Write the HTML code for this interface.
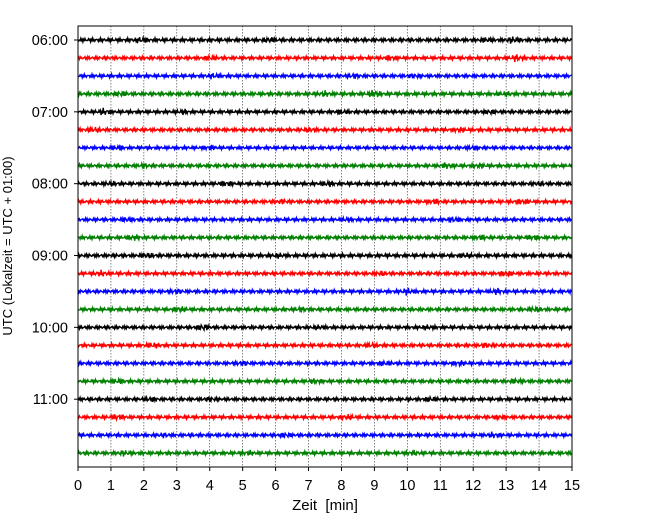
<!DOCTYPE html>
<html><head><meta charset="utf-8"><style>
html,body{margin:0;padding:0;background:#fff;}
svg{display:block;font-family:"Liberation Sans",sans-serif;}
</style></head><body>
<svg id="chart" width="650" height="520"></svg>
<script>
const xTicks = [0,1,2,3,4,5,6,7,8,9,10,11,12,13,14,15];
const hourLabels = ["06:00","07:00","08:00","09:00","10:00","11:00"];
const traceColors = ["#000000","#ff0000","#0000ff","#008000"];
const traceCount = 24;
const baseAmp = [1.9,1.8,1.8,1.9,1.8,1.8,1.7,1.8,1.8,1.8,1.8,1.8,1.9,1.8,1.8,1.8,1.8,1.8,1.8,1.8,1.8,1.8,1.8,1.8];
// bursts per trace: [minute, amplitude]
const bursts = [
 [[1.9,3],[5.8,3],[13.2,3.5],[12.4,2.5]],
 [[4,2.5],[9.5,2.5],[13.3,3.5]],
 [[4.1,3],[8.4,2.5],[10.2,2.5]],
 [[1.3,2.5],[7.5,3],[9,4],[13,2.5]],
 [[0.8,3.5],[3.2,2.5],[8,2.5],[12.5,2.5]],
 [[0.5,3],[7,2.5],[11.6,2.5]],
 [[1.2,2.5],[4,2.5],[12,2.5]],
 [[2,2.5],[11.2,3],[12.2,2.5]],
 [[1,2.5],[4.5,2.5],[7.6,3],[14,2.5]],
 [[6.2,2.5],[10.8,2.5],[13.5,2.5]],
 [[1.5,2.5],[8.2,2.5],[11.4,3]],
 [[1.7,3],[12.2,2.5],[13.8,2.5]],
 [[2.1,3],[6.1,2.5],[11.8,2.5]],
 [[0.7,3],[9.2,2.5],[13,3]],
 [[3,2.5],[10,3.5],[12.7,3]],
 [[3.1,3],[6.8,2.5],[13.9,3]],
 [[3.8,3.5],[7.3,2.5],[10.6,2.5]],
 [[2.3,3],[8.9,2.5],[12.4,2.5]],
 [[5,2.5],[9.3,2.5],[11.6,2.5]],
 [[1.2,2.5],[7.2,2.5],[13.3,2.5]],
 [[2.2,2.5],[4,2.5],[10.7,2.5]],
 [[1.2,3],[8.2,2.5],[12.8,2.5]],
 [[2.6,2.5],[6.3,2.5],[12.6,3]],
 [[1.4,3],[5.2,2.5],[10.2,2.5]]
];

const NS="http://www.w3.org/2000/svg";
const svg=document.getElementById('chart');
const L=78,R=572,T=26,B=467;
const xMin=0,xMax=15;
const y0=40,dy=17.96;
function xs(v){return L+(v-xMin)/(xMax-xMin)*(R-L);}
function ys(i){return y0+i*dy;}
function mk(tag,attrs,name){const e=document.createElementNS(NS,tag);for(const k in attrs)e.setAttribute(k,attrs[k]);


svg.appendChild(e);return e;}

xTicks.forEach(t=>{ if(t>xMin&&t<xMax){
 mk('line',{x1:xs(t),x2:xs(t),y1:T,y2:B,stroke:'#000','stroke-width':0.6,'stroke-dasharray':'1.5,1.5',opacity:0.8},'x-gridline');}});

function carrier(k,j){
 return Math.sin(k*2.9+j*1.7)*0.6+Math.sin(k*1.13+j*0.4)*0.4;}
for(let i=0;i<traceCount;i++){
 let d='';const base=ys(i);
 for(let px=L;px<=R;px+=0.7){
  const m=xMin+(px-L)/(R-L)*(xMax-xMin);
  let a=baseAmp[i];
  (bursts[i]||[]).forEach(b=>{const dm=(m-b[0])/0.15;a+=(b[1]-1)*Math.exp(-dm*dm);});
  const k=Math.round((px-L)/0.7);
  const y=base+a*carrier(k,i);
  d+=(d?'L':'M')+px.toFixed(1)+' '+y.toFixed(2);
 }
 mk('path',{d:d,fill:'none',stroke:traceColors[i%4],'stroke-width':1.4},'trace-'+i);
}

mk('rect',{x:L,y:T,width:R-L,height:B-T,fill:'none',stroke:'#000','stroke-width':1},'plot-frame');

xTicks.forEach(t=>{
 mk('line',{x1:xs(t),x2:xs(t),y1:B,y2:B+4,stroke:'#000','stroke-width':1},'x-tick');
 const tx=mk('text',{x:xs(t),y:B+23,'text-anchor':'middle','font-size':14.5},'x-tick-label');tx.textContent=t;
});
hourLabels.forEach((h,j)=>{
 const y=ys(j*4);
 mk('line',{x1:L-4,x2:L,y1:y,y2:y,stroke:'#000','stroke-width':1},'y-tick');
 const tx=mk('text',{x:L-10,y:y+5,'text-anchor':'end','font-size':14.5},'y-tick-label');tx.textContent=h;
});
const xl=mk('text',{x:(L+R)/2,y:510,'text-anchor':'middle','font-size':15},'x-axis-title');xl.textContent='Zeit\u00a0\u00a0[min]';
const yl=mk('text',{x:0,y:0,'text-anchor':'middle','font-size':13,transform:'translate(12,246) rotate(-90)'},'y-axis-title');yl.textContent='UTC (Lokalzeit = UTC + 01:00)';
</script>
</body></html>
